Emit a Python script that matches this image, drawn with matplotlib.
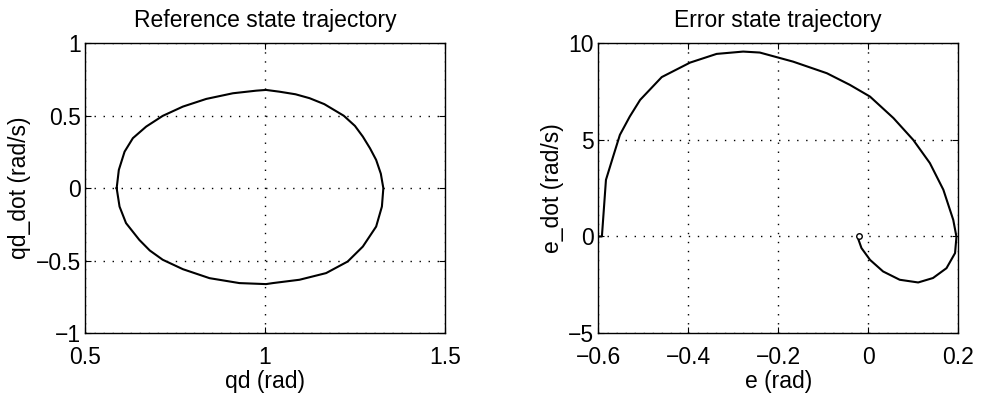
import matplotlib.pyplot as plt
import matplotlib as mpl

mpl.rcParams['font.family'] = ['Liberation Sans', 'DejaVu Sans']

# reference state trajectory (qd, qd_dot)
qd = [0.588, 0.594, 0.610, 0.633, 0.670, 0.716, 0.772, 0.837, 0.911, 0.976,
      1.003, 1.040, 1.085, 1.124, 1.165, 1.219, 1.250, 1.272, 1.292, 1.309,
      1.322, 1.329, 1.325, 1.309, 1.272, 1.230, 1.170, 1.096, 1.022, 1.003,
      0.929, 0.846, 0.772, 0.716, 0.680, 0.651, 0.614, 0.596, 0.588]
qd_dot = [0.0, 0.126, 0.252, 0.345, 0.425, 0.499, 0.563, 0.616, 0.655, 0.673,
          0.678, 0.666, 0.648, 0.621, 0.580, 0.500, 0.430, 0.356, 0.275, 0.195,
          0.100, 0.0, -0.127, -0.265, -0.403, -0.506, -0.586, -0.632, -0.655, -0.662,
          -0.655, -0.621, -0.559, -0.494, -0.430, -0.357, -0.241, -0.127, 0.0]

# error state trajectory (e, e_dot)
e = [-0.597, -0.592, -0.583, -0.567, -0.552, -0.530, -0.507, -0.459, -0.396, -0.337,
     -0.278, -0.241, -0.167, -0.092, -0.041, 0.004, 0.056, 0.100, 0.137, 0.167,
     0.189, 0.196, 0.196, 0.193, 0.174, 0.144, 0.111, 0.070, 0.033, 0.004,
     -0.015, -0.022, -0.020]
e_dot = [0.0, 0.0, 2.93, 4.14, 5.26, 6.21, 7.07, 8.25, 9.00, 9.45,
         9.57, 9.52, 9.05, 8.45, 7.85, 7.24, 6.13, 5.0, 3.80, 2.42,
         0.86, 0.0, -0.05, -0.86, -1.64, -2.15, -2.38, -2.24, -1.81, -1.21,
         -0.60, -0.14, 0.0]

fig = plt.figure(figsize=(9.86, 3.97), dpi=100)
ax1 = fig.add_axes([0.0862, 0.161, 0.365, 0.730])
ax2 = fig.add_axes([0.6068, 0.161, 0.365, 0.730])

fs = 16.5

def style(ax):
    ax.grid(True, linestyle=(0, (1, 5.5)), color='black', linewidth=1.0)
    ax.tick_params(direction='in', length=4, labelsize=fs, top=True, right=True)
    ax.tick_params(axis='x', pad=9)
    ax.tick_params(axis='y', pad=3)
    for s in ax.spines.values():
        s.set_linewidth(1.0)

ax1.plot(qd, qd_dot, color='black', linewidth=1.5)
ax1.set_xlim(0.5, 1.5)
ax1.set_ylim(-1, 1)
ax1.set_xticks([0.5, 1, 1.5])
ax1.set_xticklabels(['0.5', '1', '1.5'])
ax1.set_yticks([-1, -0.5, 0, 0.5, 1])
ax1.set_yticklabels(['\u22121', '\u22120.5', '0', '0.5', '1'])
ax1.set_title('Reference state trajectory', fontsize=fs, pad=12)
ax1.set_xlabel('qd (rad)', fontsize=fs, labelpad=1)
ax1.set_ylabel('qd_dot (rad/s)', fontsize=fs, labelpad=3)
style(ax1)

ax2.plot(e, e_dot, color='black', linewidth=1.5)
ax2.plot(e[-1:], e_dot[-1:], 'o', markersize=4, markerfacecolor='white',
         markeredgecolor='black', markeredgewidth=1.0)
ax2.set_xlim(-0.6, 0.2)
ax2.set_ylim(-5, 10)
ax2.set_xticks([-0.6, -0.4, -0.2, 0, 0.2])
ax2.set_xticklabels(['\u22120.6', '\u22120.4', '\u22120.2', '0', '0.2'])
ax2.set_yticks([-5, 0, 5, 10])
ax2.set_yticklabels(['\u22125', '0', '5', '10'])
ax2.set_title('Error state trajectory', fontsize=fs, pad=12)
ax2.set_xlabel('e (rad)', fontsize=fs, labelpad=1)
ax2.set_ylabel('e_dot (rad/s)', fontsize=fs, labelpad=3)
style(ax2)

plt.savefig('out.png', dpi=100)
